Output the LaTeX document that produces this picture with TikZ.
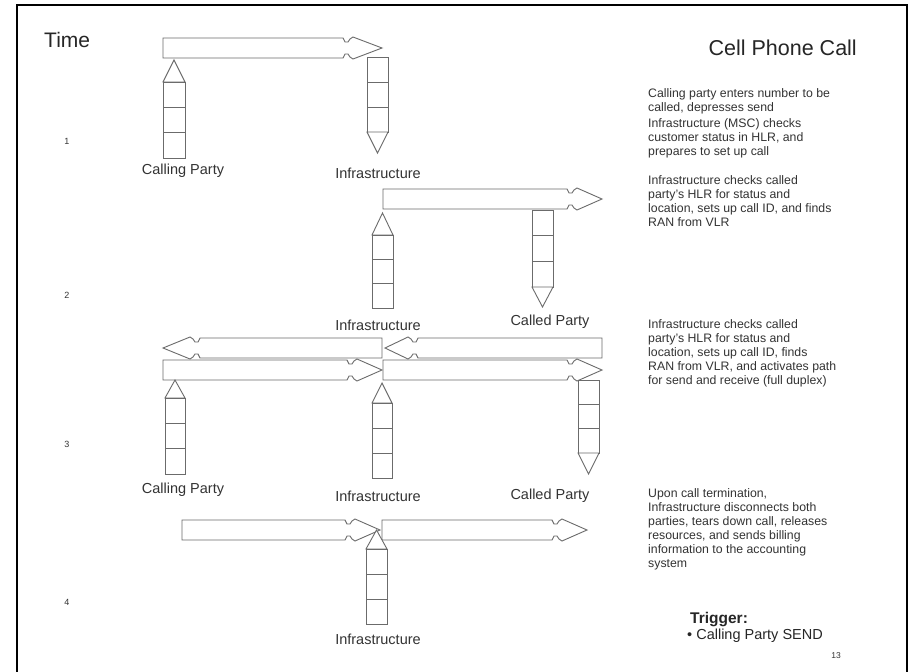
\documentclass[tikz,border=0pt]{standalone}
\usepackage{fontspec}
\setmainfont{Liberation Sans}
\newcommand\RArr[4]{% left x, notch x, tip x, centre y
  \draw[shp] (#1,#4-10) -- (#2,#4-10) -- (#2+2,#4-6) -- (#2+5,#4-6) -- (#2+7,#4-9) -- (#2+10,#4-11) -- (#3,#4)
    -- (#2+10,#4+11) -- (#2+7,#4+9) -- (#2+5,#4+6) -- (#2+2,#4+6) -- (#2,#4+10) -- (#1,#4+10) -- cycle;}
\newcommand\LArr[4]{% right x, notch x, tip x, centre y
  \draw[shp] (#1,#4-10) -- (#2,#4-10) -- (#2-2,#4-6) -- (#2-5,#4-6) -- (#2-7,#4-9) -- (#2-10,#4-11) -- (#3,#4)
    -- (#2-10,#4+11) -- (#2-7,#4+9) -- (#2-5,#4+6) -- (#2-2,#4+6) -- (#2,#4+10) -- (#1,#4+10) -- cycle;}
\newcommand\UpCol[5]{% left x, right x, tip y, base y, bottom y
  \draw[shp] (#1,#4) -- ({(#1+#2)/2},#3) -- (#2,#4) -- cycle;
  \draw[shp] (#1,#4) rectangle (#2,#5);
  \draw[shp] (#1,{#4+(#5-#4)/3}) -- (#2,{#4+(#5-#4)/3});
  \draw[shp] (#1,{#4+2*(#5-#4)/3}) -- (#2,{#4+2*(#5-#4)/3});}
\newcommand\DownCol[5]{% left x, right x, top y, base y, tip y
  \draw[shp] (#1,#3) rectangle (#2,#4);
  \draw[shp] (#1,{#3+(#4-#3)/3}) -- (#2,{#3+(#4-#3)/3});
  \draw[shp] (#1,{#3+2*(#4-#3)/3}) -- (#2,{#3+2*(#4-#3)/3});
  \draw[shp] (#1,#4) -- ({(#1+#2)/2},#5) -- (#2,#4) -- cycle;}
\begin{document}
\begin{tikzpicture}[x=1pt,y=-1pt,
  shp/.style={draw=black!58, line width=0.9pt, fill=white, line join=miter},
  lbl/.style={font=\fontsize{14.5}{16}\selectfont, text=black!80, inner sep=0},
  num/.style={font=\fontsize{9}{10}\selectfont, text=black!80, inner sep=0},
  desc/.style={font=\fontsize{12.3}{14}\selectfont, text=black!80, align=left, anchor=north west, inner sep=0}]
\useasboundingbox (0,0) rectangle (913,672);
\fill[white] (0,0) rectangle (913,672);
\draw[line width=2pt] (17,672) -- (17,5) -- (907,5) -- (907,672);

\node[font=\fontsize{21}{23}\selectfont, text=black!85, anchor=west, inner sep=0] (time) at (44,40) {Time};
\node[font=\fontsize{21.5}{24}\selectfont, text=black!85, anchor=east, inner sep=0] (title) at (857,48) {Cell Phone Call};

\node[num] (n1) at (67,141) {1};
\node[num] (n2) at (67,295) {2};
\node[num] (n3) at (67,444) {3};
\node[num] (n4) at (67,602) {4};

% step 1
\RArr{163}{343}{382}{48}
\UpCol{163}{185}{60}{82}{158}
\DownCol{367}{388}{57}{132}{153}
\node[lbl] (cp1) at (183,171) {Calling Party};
\node[lbl] (in1) at (378,173) {Infrastructure};

% step 2
\RArr{383}{567}{602}{199}
\UpCol{372}{393}{213}{235}{308}
\DownCol{532}{553}{210}{287}{307}
\node[lbl] (in2) at (378,325) {Infrastructure};
\node[lbl] (cd2) at (550,322) {Called Party};

% step 3
\LArr{382}{200}{163}{348}
\LArr{602}{418}{385}{348}
\RArr{163}{347}{382}{370}
\RArr{383}{567}{602}{370}
\UpCol{165}{185}{380}{398}{474}
\UpCol{372}{392}{383}{403}{478}
\DownCol{578}{599}{380}{453}{474}
\node[lbl] (cp3) at (183,490) {Calling Party};
\node[lbl] (in3) at (378,496) {Infrastructure};
\node[lbl] (cd3) at (550,496) {Called Party};

% step 4
\RArr{182}{345}{380}{530}
\RArr{382}{552}{587}{530}
\UpCol{366}{387}{530}{549}{624}
\node[lbl] (in4) at (378,639) {Infrastructure};

% descriptions
\node[desc] (d1) at (648,88) {Calling party enters number to be\\called, depresses send};
\node[desc] (d1b) at (648,118) {Infrastructure (MSC) checks\\customer status in HLR, and\\prepares to set up call};
\node[desc] (d2) at (648,175) {Infrastructure checks called\\party's HLR for status and\\location, sets up call ID, and finds\\RAN from VLR};
\node[desc] (d3) at (648,319) {Infrastructure checks called\\party's HLR for status and\\location, sets up call ID, finds\\RAN from VLR, and activates path\\for send and receive (full duplex)};
\node[desc] (d4) at (648,488) {Upon call termination,\\Infrastructure disconnects both\\parties, tears down call, releases\\resources, and sends billing\\information to the accounting\\system};

\node[font=\bfseries\fontsize{15.5}{17}\selectfont, text=black!85, anchor=west, inner sep=0] (trig) at (690,620) {Trigger:};
\node[font=\fontsize{14.5}{16}\selectfont, text=black!85, anchor=west, inner sep=0] (trig2) at (687,636) {\textbullet\ Calling Party SEND};
\node[font=\fontsize{8.5}{10}\selectfont, text=black!80, inner sep=0] (pg) at (836,656) {13};
\end{tikzpicture}
\end{document}
